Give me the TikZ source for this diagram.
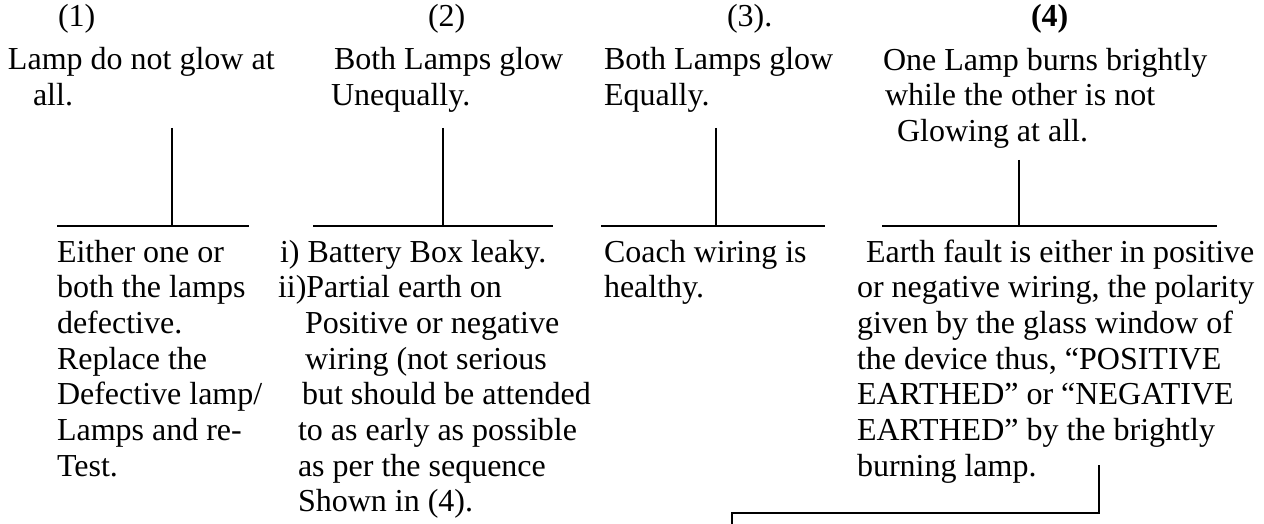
\documentclass[tikz,border=0pt]{standalone}
\usepackage{fontspec}
\setmainfont{Liberation Serif}
\newcommand\tst{\rule{0pt}{26pt}}
\begin{document}
\begin{tikzpicture}[x=1pt,y=-1pt,
  txt/.style={anchor=north west, inner sep=0pt, outer sep=0pt, align=left,
    font=\fontsize{32}{35.7}\selectfont},
  conn/.style={line width=1.3pt, black}]
\useasboundingbox (0,0) rectangle (1264,524);
% headers
\node[txt] (h1) at (58,1) {\tst(1)};
\node[txt] (h2) at (428,1) {\tst(2)};
\node[txt] (h3) at (727,1) {\tst(3).};
\node[txt] (h4) at (1031,1) {\tst\textbf{(4)}};
% conditions
\node[txt] (c1) at (8,44) {\tst Lamp do not glow at\\\hspace*{25pt}all.};
\node[txt] (c2) at (331,44) {\tst\hspace*{3pt}Both Lamps glow\\Unequally.};
\node[txt] (c3) at (604,44) {\tst Both Lamps glow\\Equally.};
\node[txt] (c4) at (883,44) {\tst One Lamp burns brightly\\\hspace*{2pt}while the other is not\\\hspace*{14pt}Glowing at all.};
% results
\node[txt] (r1) at (57,236) {\tst Either one or\\both the lamps\\defective.\\Replace the\\Defective lamp/\\Lamps and re-\\Test.};
\node[txt] (r2) at (278,236) {\tst\hspace*{2pt}i) Battery Box leaky.\\ii)Partial earth on\\\hspace*{27pt}Positive or negative\\\hspace*{27pt}wiring (not serious\\\hspace*{24pt}but should be attended\\\hspace*{20pt}to as early as possible\\\hspace*{20pt}as per the sequence\\\hspace*{20pt}Shown in (4).};
\node[txt] (r3) at (604,236) {\tst Coach wiring is\\healthy.};
\node[txt] (r4) at (857,236) {\tst\hspace*{9pt}Earth fault is either in positive\\or negative wiring, the polarity\\given by the glass window of\\the device thus, “POSITIVE\\EARTHED” or “NEGATIVE\\EARTHED” by the brightly\\burning lamp.};
% connector coordinates
\coordinate (v1t) at (172,128); \coordinate (v1b) at (172,226);
\coordinate (l1a) at (57,226);  \coordinate (l1b) at (249,226);
\coordinate (v2t) at (443,128); \coordinate (v2b) at (443,226);
\coordinate (l2a) at (313,226); \coordinate (l2b) at (553,226);
\coordinate (v3t) at (716,128); \coordinate (v3b) at (716,226);
\coordinate (l3a) at (601,226); \coordinate (l3b) at (825,226);
\coordinate (v4t) at (1019,160); \coordinate (v4b) at (1019,226);
\coordinate (l4a) at (882,226); \coordinate (l4b) at (1217,226);
\coordinate (e1) at (1099,465); \coordinate (e2) at (1099,513);
\coordinate (e3) at (732,513);  \coordinate (e4) at (732,524);
\draw[conn] (v1t) -- (v1b); \draw[conn] (l1a) -- (l1b);
\draw[conn] (v2t) -- (v2b); \draw[conn] (l2a) -- (l2b);
\draw[conn] (v3t) -- (v3b); \draw[conn] (l3a) -- (l3b);
\draw[conn] (v4t) -- (v4b); \draw[conn] (l4a) -- (l4b);
\draw[conn] (e1) -- (e2) -- (e3) -- (e4);
\end{tikzpicture}
\end{document}
